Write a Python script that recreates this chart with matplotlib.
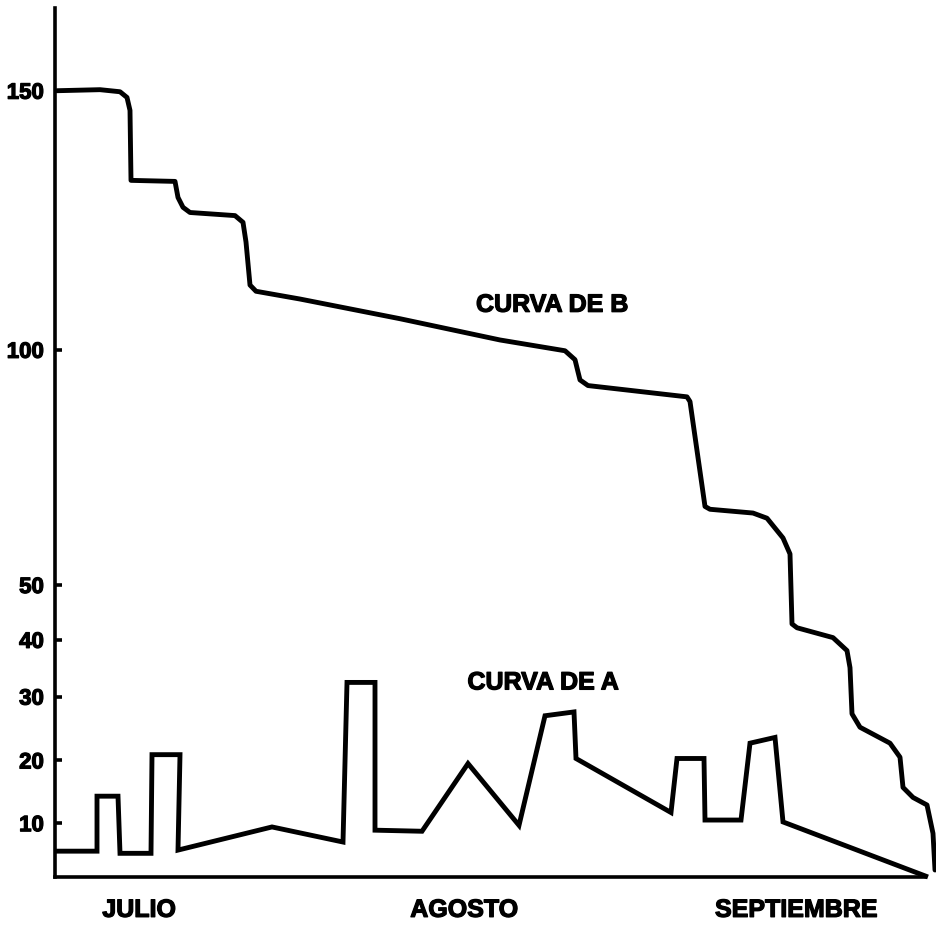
import numpy as np
import matplotlib
matplotlib.use("Agg")
import matplotlib.pyplot as plt
import matplotlib.patheffects as pe

# ---- data (x in chart units from the y axis, y in chart values) ----
curve_a_x = [0, 42, 42, 63, 65, 96, 97, 125, 123, 217, 288, 292, 320, 320, 367, 413,
             464, 490, 519, 521, 616, 622, 649, 650, 686, 695, 720, 728, 873]
curve_a_y = [4.8, 4.8, 14.3, 14.3, 4.4, 4.4, 20.9, 20.9, 5.0, 9.3, 6.5, 32.5, 32.5, 8.7,
             8.5, 19.5, 9.6, 27.0, 27.6, 20.3, 11.7, 20.3, 20.3, 10.5, 10.5, 22.7, 23.6,
             10.2, 0.0]

curve_b_x = [2, 45, 65, 72, 75, 76, 120, 123, 128, 135, 180, 188, 191, 195, 201, 245,
             345, 445, 510, 520, 523, 525, 533, 632, 635, 650, 655, 698, 712, 728, 735,
             737, 742, 778, 792, 795, 797, 805, 835, 845, 848, 858, 872, 878, 880]
curve_b_y = [150.0, 150.2, 149.8, 148.7, 146.2, 132.7, 132.5, 129.4, 127.5, 126.5, 125.9,
             124.6, 120.8, 112.5, 111.3, 109.8, 106.0, 101.9, 99.8, 97.9, 95.3, 93.6,
             92.4, 90.0, 89.0, 66.7, 66.1, 65.3, 64.2, 60.0, 56.6, 42.9, 42.2, 40.4,
             38.1, 35.1, 27.3, 25.2, 22.7, 20.5, 15.7, 14.1, 12.9, 8.1, 1.3]

y_ticks = [10, 20, 30, 40, 50, 100, 150]
y_tick_labels = ["10", "20", "30", "40", "50", "100", "150"]
month_pos = [84, 409, 741]
month_labels = ["JULIO", "AGOSTO", "SEPTIEMBRE"]
label_a = "CURVA DE A"
label_b = "CURVA DE B"

# non-uniform vertical scale of the original drawing (value -> drawn height)
scale_vals = np.array([0, 10, 20, 30, 40, 50, 100, 150, 166])
scale_h = np.array([0, 54, 117, 181, 238, 293, 529, 789, 872])


def fwd(v):
    return np.interp(v, scale_vals, scale_h)


def inv(h):
    return np.interp(h, scale_h, scale_vals)


plt.rcParams['font.family'] = ['Liberation Sans', 'DejaVu Sans']
heavy = [pe.withStroke(linewidth=0.9, foreground='black')]

fig = plt.figure(figsize=(9.36, 9.25), dpi=100)
W, H = 936, 925
left_px, right_px, bottom_px, top_px = 55, 936, 877, 8
ax = fig.add_axes([left_px / W, (H - bottom_px) / H,
                   (right_px - left_px) / W, (bottom_px - top_px) / H])
ax.set_yscale('function', functions=(fwd, inv))
ax.set_xlim(0, right_px - left_px)
ax.set_ylim(0, 166)

lw = 3.5
ax.plot(curve_a_x, curve_a_y, color='black', lw=lw, solid_joinstyle='miter',
        solid_capstyle='butt', clip_on=False)
ax.plot(curve_b_x, curve_b_y, color='black', lw=lw, solid_joinstyle='round',
        solid_capstyle='round', clip_on=False)

for s in ['top', 'right']:
    ax.spines[s].set_visible(False)
for s in ['left', 'bottom']:
    ax.spines[s].set_linewidth(2.6)
ax.spines['bottom'].set_bounds(0, 870)

ax.set_yticks(y_ticks)
ax.set_yticklabels(y_tick_labels, fontsize=16, fontweight='bold')
ax.yaxis.set_minor_locator(matplotlib.ticker.NullLocator())
ax.tick_params(axis='y', direction='in', length=5, width=2.6, pad=8)

ax.set_xticks(month_pos)
ax.set_xticklabels(month_labels, fontsize=18, fontweight='bold')
ax.tick_params(axis='x', length=0, pad=15)

for t in ax.get_xticklabels() + ax.get_yticklabels():
    t.set_path_effects(heavy)

ax.text(497, 108.7, label_b, fontsize=18, fontweight='bold', ha='center', va='center',
        path_effects=heavy)
ax.text(488, 32.5, label_a, fontsize=18, fontweight='bold', ha='center', va='center',
        path_effects=heavy)

fig.savefig('out.png', dpi=100)
